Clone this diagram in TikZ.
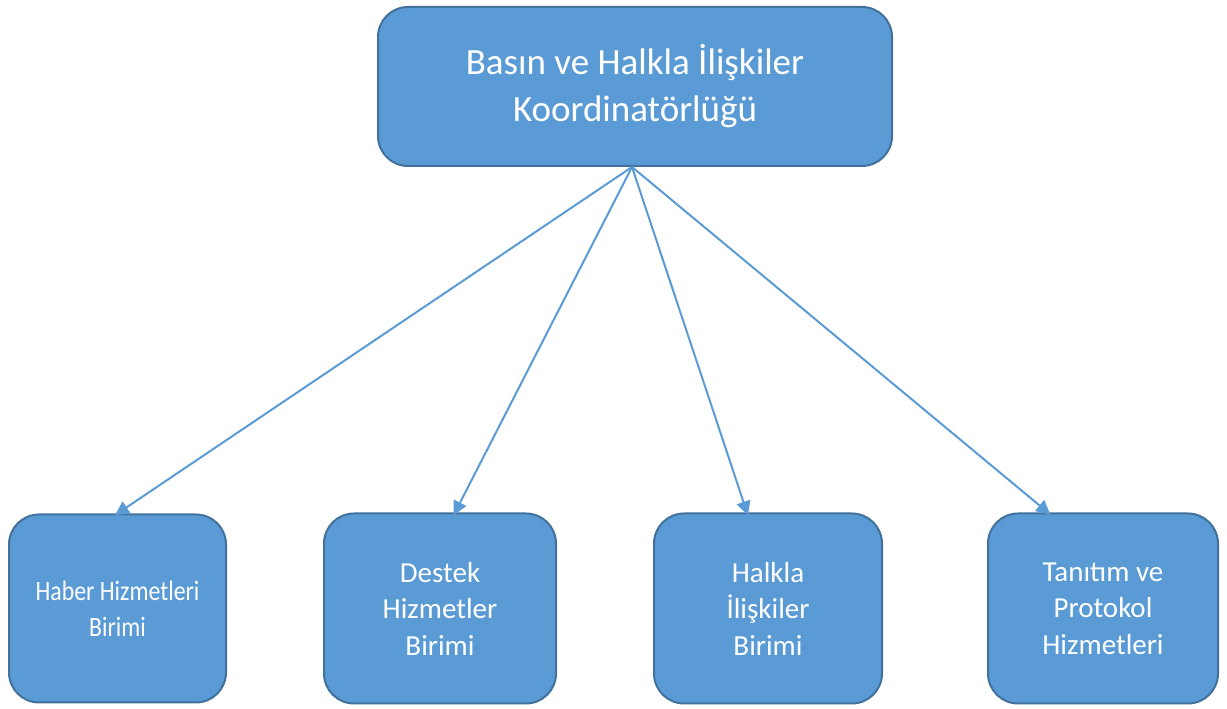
\documentclass[tikz,border=0pt]{standalone}
\usepackage{fontspec}
\setmainfont{Carlito}
\newfontfamily\narrowfont[FakeStretch=0.85]{Carlito}
\usetikzlibrary{positioning, arrows.meta}
\definecolor{boxblue}{HTML}{5B9BD5}
\definecolor{boxedge}{HTML}{41719C}

\begin{document}
\begin{tikzpicture}[
    x=1pt, y=1pt,
    headbox/.style={rectangle, draw=boxedge, line width=2pt, fill=boxblue, rounded corners=30pt, minimum width=514pt, minimum height=159pt, align=center, text=white, font=\fontsize{37}{47}\selectfont},
    unitbox/.style={rectangle, draw=boxedge, line width=2pt, fill=boxblue, rounded corners=30pt, minimum width=230pt, minimum height=190pt, align=center, text=white, font=\fontsize{29}{36.5}\selectfont},
    arrow/.style={-{Triangle[length=14pt,width=14pt]}, draw=boxblue, line width=2pt, shorten >=-3pt}
]
\useasboundingbox (0,0) rectangle (1227,709);

\node[headbox] (koord) at (635,622.5) {Basın ve Halkla İlişkiler\\Koordinatörlüğü};
\node[unitbox, minimum width=217pt, minimum height=188pt, font=\narrowfont\fontsize{28}{36}\selectfont] (haber) at (117.5,100.5) {Haber Hizmetleri\\Birimi};
\node[unitbox, minimum width=232pt, right=96pt of haber.east, anchor=west] (destek) {Destek\\Hizmetler\\Birimi};
\node[unitbox, minimum width=228pt, right=96pt of destek.east, anchor=west] (halkla) {Halkla\\İlişkiler\\Birimi};
\node[unitbox, right=104pt of halkla.east, anchor=west] (tanitim) {Tanıtım ve\\Protokol\\Hizmetleri};

\draw[arrow] ([xshift=-3pt]koord.south) -- (haber.north);
\draw[arrow] ([xshift=-3pt]koord.south) -- ([xshift=15pt]destek.north);
\draw[arrow] ([xshift=-3pt]koord.south) -- ([xshift=-21pt]halkla.north);
\draw[arrow] ([xshift=-3pt]koord.south) -- ([xshift=-55pt]tanitim.north);

\end{tikzpicture}
\end{document}
